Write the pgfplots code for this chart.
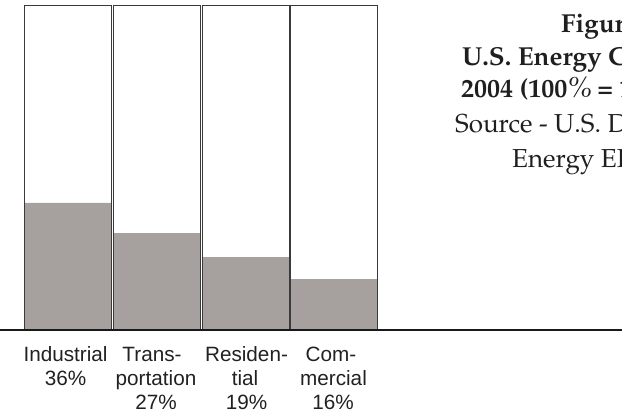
\documentclass[border=0pt]{standalone}
\usepackage[T1,TU]{fontenc}
\usepackage{fontspec}
\newfontfamily\labelfont{Liberation Sans}
\newcommand\pala{\fontencoding{T1}\fontfamily{ppl}\selectfont}
\usepackage{pgfplots}
\pgfplotsset{compat=1.18}
\definecolor{barfill}{HTML}{A6A19E}
\definecolor{edge}{HTML}{3A3A3A}
\begin{document}
\begin{tikzpicture}[x=1bp,y=1bp]
\path[use as bounding box] (0,0) rectangle (622,416);
\clip (0,0) rectangle (622,416);
\begin{axis}[at={(0,0)}, anchor=south west,
  width=622bp, height=416bp, scale only axis,
  xmin=0, xmax=622, ymin=-26.54, ymax=101.85,
  hide axis, clip=false]
% full-height boxes (100%)
\addplot[ybar, bar width=87, bar shift=0pt, fill=white, draw=none]
  coordinates {(68,100) (157,100) (245.5,100) (334,100)};
% shares
\addplot[ybar, bar width=87, bar shift=0pt, fill=barfill, draw=none]
  coordinates {(68,39.2) (157,29.9) (245.5,22.5) (334,15.7)};
% outlines
\addplot[ybar, bar width=87, bar shift=0pt, fill=none, draw=edge, line width=1bp]
  coordinates {(68,100) (157,100) (245.5,100) (334,100)};
\draw[line width=2bp, black!90] (axis cs:-50,0) -- (axis cs:700,0);
\end{axis}
% category labels
\begin{scope}[every node/.style={inner sep=0pt, anchor=base, font=\labelfont\fontsize{20.7bp}{24bp}\selectfont, text=black!87}]
\node at (65.5,54.5) {Industrial};
\node at (65.5,30.5) {36\%};
\node at (152,54.5) {Trans-};
\node at (156,30.5) {portation};
\node at (156,6.5) {27\%};
\node at (246.5,54.5) {Residen-};
\node at (245,30.5) {tial};
\node at (246.5,6.5) {19\%};
\node at (331,54.5) {Com-};
\node at (333.5,30.5) {mercial};
\node at (333,6.5) {16\%};
\end{scope}
% title block (clipped at the right edge)
\begin{scope}[every node/.style={inner sep=0pt, anchor=base west, text=black!88}]
\node[font=\pala\bfseries\fontsize{26bp}{30bp}\selectfont] at (561,384) {Figure 1};
\node[font=\pala\bfseries\fontsize{26bp}{30bp}\selectfont] at (462,351) {U.S. Energy Consumption by Sector,};
\node[font=\pala\bfseries\fontsize{26bp}{30bp}\selectfont] at (461,319) {2004 (100{\fontseries{m}\itshape\fontsize{29bp}{30bp}\selectfont\%}\,= 100 Quads)};
\node[font=\pala\fontsize{26bp}{30bp}\selectfont] at (455,284) {Source - U.S. Department of};
\node[font=\pala\fontsize{26bp}{30bp}\selectfont] at (512,249) {Energy EIA};
\end{scope}
\end{tikzpicture}
\end{document}
